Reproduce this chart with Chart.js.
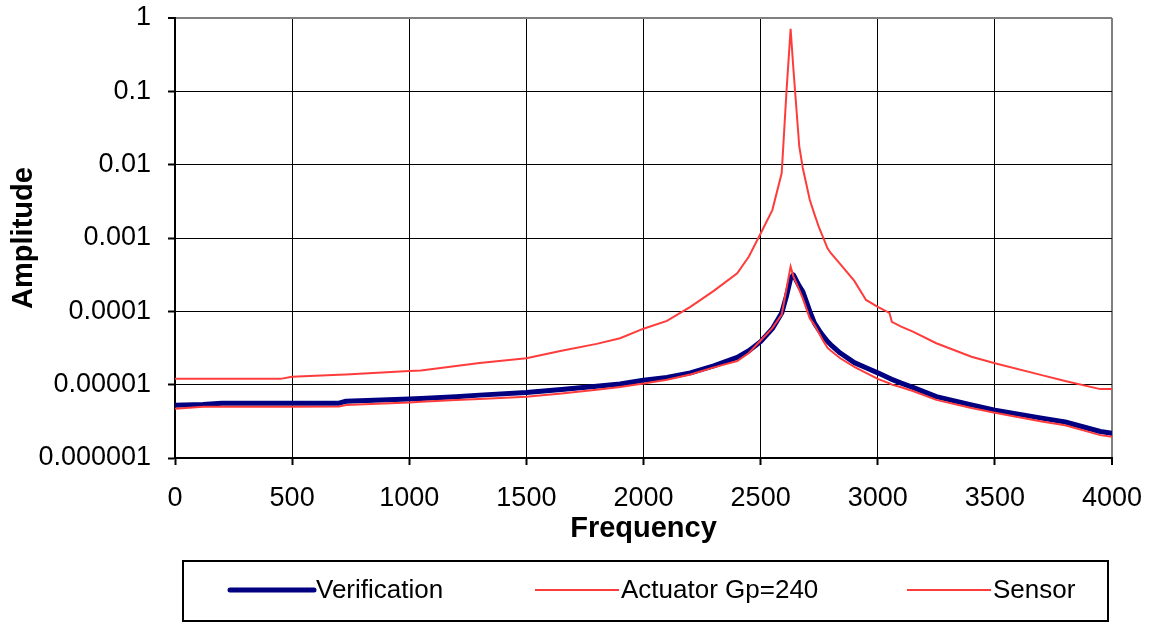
<!DOCTYPE html>
<html>
<head>
<meta charset="utf-8">
<script src="https://cdn.jsdelivr.net/npm/chart.js@4/dist/chart.umd.min.js"></script>
<style>
  html, body { margin: 0; padding: 0; background: #fff; }
  #wrap { width: 1160px; height: 622px; }
</style>
</head>
<body>
<div id="wrap"><canvas id="freqChart"></canvas></div>
<script>
// frequency points (Hz) shared by all three series
var freq = [0, 120, 200, 450, 500, 700, 730, 1000, 1050, 1200, 1300, 1500, 1650, 1800, 1900,
  2000, 2100, 2200, 2300, 2400, 2450, 2500, 2550, 2590, 2610, 2628, 2640, 2665, 2680, 2710,
  2730, 2750, 2765, 2785, 2800, 2840, 2900, 2950, 3000, 3050, 3060, 3100, 3150, 3250, 3400,
  3500, 3700, 3800, 3950, 4000];

var verification = [5.25e-6, 5.35e-6, 5.57e-6, 5.57e-6, 5.57e-6, 5.6e-6, 5.94e-6, 6.4e-6, 6.5e-6, 6.86e-6, 7.2e-6, 7.8e-6, 8.6e-6, 9.5e-6, 1.02e-5,
  1.15e-5, 1.25e-5, 1.45e-5, 1.8e-5, 2.35e-5, 2.9e-5, 3.86e-5, 5.8e-5, 9.5e-5, 1.6e-4, 2.8e-4, 3.14e-4, 2.2e-4, 1.86e-4, 1.0e-4,
  6.9e-5, 5.5e-5, 4.7e-5, 3.9e-5, 3.5e-5, 2.7e-5, 2.0e-5, 1.7e-5, 1.45e-5, 1.22e-5, 1.18e-5, 1.05e-5, 9.2e-6, 6.86e-6, 5.3e-6,
  4.5e-6, 3.5e-6, 3.1e-6, 2.3e-6, 2.17e-6];

var actuator = [4.7e-6, 5.0e-6, 5.0e-6, 5.0e-6, 5.0e-6, 5.05e-6, 5.28e-6, 5.7e-6, 5.86e-6, 6.2e-6, 6.4e-6, 6.86e-6, 7.6e-6, 8.5e-6, 9.3e-6,
  1.04e-5, 1.17e-5, 1.38e-5, 1.72e-5, 2.1e-5, 2.7e-5, 4.0e-5, 5.9e-5, 9.0e-5, 2.0e-4, 4.07e-4, 3.0e-4, 1.96e-4, 1.5e-4, 8.0e-5,
  6.5e-5, 5.0e-5, 4.07e-5, 3.2e-5, 2.9e-5, 2.29e-5, 1.75e-5, 1.45e-5, 1.2e-5, 1.04e-5, 1.0e-5, 9.2e-6, 8.2e-6, 6.2e-6, 4.8e-6,
  4.15e-6, 3.15e-6, 2.8e-6, 2.05e-6, 1.95e-6];

var sensor = [1.2e-5, 1.2e-5, 1.2e-5, 1.2e-5, 1.28e-5, 1.37e-5, 1.38e-5, 1.53e-5, 1.56e-5, 1.8e-5, 1.97e-5, 2.29e-5, 2.9e-5, 3.6e-5, 4.3e-5,
  5.8e-5, 7.4e-5, 1.15e-4, 1.9e-4, 3.3e-4, 5.6e-4, 1.15e-3, 2.4e-3, 7.7e-3, 0.095, 0.71, 0.2, 0.0177, 0.009, 0.0033,
  0.0021, 1.37e-3, 1.05e-3, 7.3e-4, 6.2e-4, 4.4e-4, 2.6e-4, 1.43e-4, 1.15e-4, 9.5e-5, 7.2e-5, 6.2e-5, 5.3e-5, 3.67e-5, 2.4e-5,
  1.96e-5, 1.35e-5, 1.12e-5, 8.7e-6, 8.7e-6];

var yTicks = [1e-6, 1e-5, 1e-4, 1e-3, 1e-2, 1e-1, 1];

function pts(vals) {
  return freq.map(function (f, i) { return { x: f, y: vals[i] }; });
}

var FONT = "'Liberation Sans', Arial, sans-serif";

// legend drawn in a framed box under the axis title
var boxLegend = {
  id: 'boxLegend',
  afterDraw: function (chart) {
    var ctx = chart.ctx;
    var starts = [230, 535, 907];
    ctx.save();
    ctx.strokeStyle = '#000';
    ctx.lineWidth = 2;
    ctx.strokeRect(183, 561, 925, 60);
    ctx.font = '26px ' + FONT;
    ctx.textBaseline = 'middle';
    ctx.fillStyle = '#000';
    chart.data.datasets.forEach(function (ds, i) {
      var x = starts[i];
      ctx.beginPath();
      ctx.strokeStyle = ds.borderColor;
      ctx.lineWidth = ds.borderWidth;
      ctx.lineCap = ds.borderWidth > 3 ? 'round' : 'butt';
      ctx.moveTo(x, 590);
      ctx.lineTo(x + 84, 590);
      ctx.stroke();
      ctx.fillText(ds.label, x + 86, 591);
    });
    ctx.restore();
  }
};

new Chart(document.getElementById('freqChart'), {
  type: 'line',
  data: {
    datasets: [{
      label: 'Verification',
      data: pts(verification),
      borderColor: '#000080',
      borderWidth: 5,
      borderJoinStyle: 'round',
      borderCapStyle: 'round',
      order: 3
    }, {
      label: 'Actuator Gp=240',
      data: pts(actuator),
      borderColor: '#ff3c3c',
      borderWidth: 2,
      order: 2
    }, {
      label: 'Sensor',
      data: pts(sensor),
      borderColor: '#ff3c3c',
      borderWidth: 2,
      order: 1
    }]
  },
  options: {
    responsive: true,
    maintainAspectRatio: false,
    animation: false,
    elements: { point: { radius: 0 }, line: { tension: 0 } },
    layout: { padding: { left: 0, right: 48, top: 18, bottom: 74 } },
    plugins: {
      legend: { display: false },
      tooltip: { enabled: false }
    },
    scales: {
      x: {
        type: 'linear',
        min: 0,
        max: 4000,
        afterFit: function (s) { s.height = 90; },
        ticks: {
          stepSize: 500,
          color: '#000',
          padding: 17,
          maxRotation: 0,
          font: { family: FONT, size: 27 },
          callback: function (v) { return String(v); }
        },
        grid: {
          color: function (c) { return c.tick && c.tick.value === 4000 ? '#808080' : '#000'; },
          lineWidth: function (c) { return c.tick && c.tick.value === 4000 ? 2 : 1; },
          tickColor: '#000',
          tickWidth: 2,
          tickLength: 7
        },
        border: { color: '#000', width: 2 },
        title: {
          display: true,
          text: 'Frequency',
          color: '#000',
          padding: { top: 0, bottom: 2 },
          font: { family: FONT, size: 29, weight: 'bold' }
        }
      },
      y: {
        type: 'logarithmic',
        min: 1e-6,
        max: 1,
        afterFit: function (s) {
          s.width = 175;
          s.paddingTop = 0;
          s.paddingBottom = 0;
        },
        afterBuildTicks: function (s) {
          s.ticks = yTicks.map(function (v) { return { value: v }; });
        },
        ticks: {
          color: '#000',
          padding: 17,
          font: { family: FONT, size: 27 },
          callback: function (v) { return String(v); }
        },
        grid: {
          color: function (c) { return c.tick && c.tick.value === 1 ? '#808080' : '#000'; },
          lineWidth: function (c) { return c.tick && c.tick.value === 1 ? 2 : 1; },
          tickColor: '#000',
          tickWidth: 2,
          tickLength: 7
        },
        border: { color: '#000', width: 2 },
        title: {
          display: true,
          text: 'Amplitude',
          color: '#000',
          padding: { top: 7, bottom: 0 },
          font: { family: FONT, size: 29, weight: 'bold' }
        }
      }
    }
  },
  plugins: [boxLegend]
});
</script>
</body>
</html>
